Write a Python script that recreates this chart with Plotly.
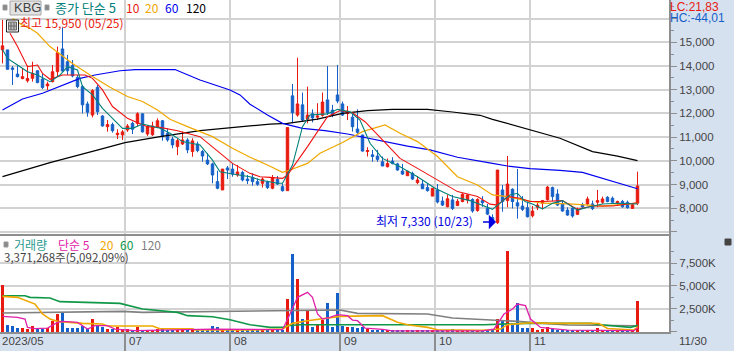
import plotly.graph_objects as go

# ---------- price data ----------
highs = [15950,14680,14000,14030,13900,14020,14180,13830,13660,13340,14040,14820,15630,14470,14250,13620,13200,12500,13020,13200,
11930,11720,11610,11330,11300,11550,11650,12050,12000,11510,11650,11790,11720,11370,11020,10950,11230,10950,10950,10810,
10460,10320,9920,9580,9650,9780,9890,9820,9580,9400,
9470,9260,9300,9160,9400,9360,9050,11400,13240,14350,12880,13130,12170,12430,12880,14000,12360,14040,12500,12310,
11980,12170,11090,10570,10460,10460,10180,10100,10150,9920,9870,9580,9540,9360,9190,9050,8840,9020,8490,8560,
8560,8390,8630,8590,8420,8420,8510,8180,7740,9610,8980,10200,8840,9650,8510,8280,8090,8280,8350,8940,
8910,8800,8320,8040,8040,8020,8230,8490,8320,8770,8490,8510,8490,8320,8350,8320,8180,9540]
lows = [14110,13860,13200,13520,13440,13300,13340,13270,13030,12990,13310,13550,13760,13620,13520,13060,12000,11860,11830,11930,
11440,11230,11190,10920,10880,11220,11130,11470,11190,11050,11050,11380,10850,10810,10530,10240,10670,10320,10170,10360,
9960,9820,9050,8800,8770,9230,9330,9330,9130,9020,
8950,8940,8870,8810,8800,8980,8700,8740,11580,11860,11650,11580,11620,11720,11860,11930,11840,12430,11890,11720,
11230,11120,10390,10180,9960,9960,9780,9720,9850,9580,9400,9360,9190,9010,8810,8700,8510,8200,8090,8040,
7920,8090,8250,8200,7810,7850,8060,7710,7340,7330,7850,8040,7990,7560,7880,7610,7610,7920,7950,8320,
8300,8090,7850,7680,7600,7710,8020,8130,7920,8040,8180,8250,8210,8090,8020,7980,7980,8130]
opens = [14680,14680,13920,13660,13470,13380,13480,13800,13450,13160,13340,13760,14720,14180,14020,13520,13130,12400,11930,13100,
11890,11440,11530,11100,11090,11300,11580,11580,11980,11130,11100,11440,11690,11160,10920,10600,10710,10880,10390,10710,
10390,10030,9870,9120,8770,9700,9650,9400,9510,9230,
9300,9120,9050,9120,8840,9220,8910,8740,12740,11930,12360,11750,11980,11840,11920,12570,12140,12780,12400,12000,
11840,11340,11090,10390,10250,10200,9960,9750,9990,9870,9570,9370,9470,9080,9020,8870,8510,8770,8300,8060,
8350,8110,8280,8350,8370,7900,8320,7990,7610,7390,8770,8320,8800,8230,8090,8020,7680,8040,8210,8360,
8870,8600,8180,7920,7990,7740,8150,8180,8180,8250,8250,8460,8420,8210,8280,8250,7990,8210]
closes = [14850,13860,13860,13550,13550,13470,13690,13300,13090,13240,13760,14560,13790,13800,13580,13130,12360,12050,12960,12070,
11470,11530,11270,11160,11220,11470,11330,11980,11220,11440,11470,11690,11020,10880,10670,10850,10880,10460,10840,10430,
10200,9870,9400,8840,9650,9610,9440,9530,9190,9160,
9120,9010,9230,8870,9290,9020,8740,11400,12030,12400,11720,11930,11810,11890,12480,12030,11920,12520,11930,12090,
11440,11200,10410,10430,10180,10060,9780,9890,9880,9610,9440,9560,9230,9190,8820,8740,8840,8260,8130,8400,
7990,8290,8590,8560,7880,8370,8230,7750,7360,9610,8280,9020,8280,8090,7950,7640,7880,8130,8320,8890,
8490,8130,7880,7710,7670,7950,8050,8390,7980,8320,8390,8280,8250,8280,8060,8020,8150,8940]
candle_index = list(range(len(highs)))

# moving averages at knot positions
ma5_x = [0,1,3,5,7,9.5,11.5,13,15,16,18,20,22,24,26,28,31.5,33.5,36,39.5,42,43.5,46,49.5,51.5,55,56,58,60,61.5,65,67,69.5,71.5,73.5,76,79.5,83,86.5,90,93.5,98,99,101.5,103,104.5,106,108,110,112,115,117,120,123,127]
ma5_y = [14700,14320,14040,13760,13620,13340,13620,13970,13830,13130,12780,12210,11790,11370,11370,11550,11370,11160,10810,10670,10030,9540,9440,9330,9190,9050,9050,9820,11440,11930,11980,12170,12070,11720,10740,10100,9750,9330,8840,8490,8320,7950,8130,8560,8630,8280,8180,7970,8210,8320,7920,8040,8180,8210,8180]
ma10_x = [1.5,3,5,7,8,9.5,12,14,16.5,18,20,22,25,27,29,31.5,35,39.5,43,46,49.5,51.5,53.5,56,57,61,65,67.5,70,72.5,76,79.5,83,87,91,95,97.5,99,101,103.5,105.5,108,112,115,118,122,127]
ma10_y = [15380,14820,13970,14040,13690,13440,13620,13620,13620,13480,12990,12290,11790,11610,11440,11410,11270,11020,10390,9890,9470,9330,9300,9260,9400,10600,11860,12120,12030,11650,10880,10100,9680,9190,8700,8490,8170,8130,8490,8420,8280,8280,8320,7950,8090,8090,8230]
ma20_x = [2,4,5.5,7,9.5,14,17.5,21.5,25,28,31,33.5,37,42,46,49.5,53,56,57.5,61,63.5,68,72,76.5,79.5,83,87,91,95,98,101,104,108,113.5,120,127]
ma20_y = [16000,15720,15590,15380,14820,14110,13620,13100,12710,12500,12140,11750,11440,11020,10530,10150,9820,9510,9610,9890,10320,10770,11230,11510,11160,10810,10180,9330,8980,8560,8490,8350,8210,8180,8090,8210]
ma60_x = [0,4,8,12,15.5,18.5,23.5,26.5,34.5,39.5,45.5,47.5,49.5,53,56,60,64.5,69,73,81,85.5,91,98,101,105.5,111.5,116,120,124,127]
ma60_y = [12140,12610,12850,13200,13480,13620,13800,13850,13850,13410,12990,12780,12390,11930,11580,11370,11270,11130,10950,10620,10460,10150,9890,9780,9670,9600,9510,9260,8980,8820]
ma120_x = [0,9.5,19.5,24.5,31.5,39.5,49.5,53.5,57,63,68,73,78,85,90,95.5,98,106,111.5,118,123,127]
ma120_y = [9330,9920,10480,10770,11020,11270,11470,11550,11580,11760,12000,12120,12170,12170,12060,11920,11750,11270,10950,10390,10200,10010]

# ---------- volume data (thousand shares) ----------
volumes = [5100,730,620,400,400,290,620,400,330,360,
1130,1930,2040,400,400,400,620,330,1350,655,
470,290,290,470,250,250,220,550,180,180,
180,250,250,220,220,180,250,220,180,180,
180,180,620,470,250,180,180,180,180,180,
180,150,150,150,150,150,150,3570,8480,5750,
1380,2290,510,840,1270,3130,550,4220,620,510,
510,440,550,290,180,220,220,110,130,130,
130,110,120,110,120,120,130,110,110,120,
290,130,120,110,130,120,130,120,150,1380,
1130,8850,840,3130,400,400,400,180,250,510,
290,220,180,180,150,130,130,150,130,400,
130,130,130,120,130,130,120,3371]

v5_x = [0,3,4.5,5,6.5,9,11,12,15,17,18.5,21,22.5,26.5,42,46,50,56,57.5,59,61,62,63,64,65.5,67,69,70,71,72.5,76,78,96,98.3,100.3,102,103,104.6,105.6,107.6,109,113,126.3,127]
v5_y = [1675,1565,1380,470,330,400,1020,1130,1020,290,655,655,290,110,290,290,220,220,1930,3750,4300,3750,1930,1380,1565,1860,1750,1270,1200,400,250,100,80,290,1930,2475,3020,2840,1380,470,400,180,110,400]
v20_x = [0,3,6.5,8,9.5,11,16,20,21,30,31.5,38,38.5,50,56,58,61,65,67.5,76,79,81,85,87,96,99.6,101,105.6,109.6,117.6,119.3,121,126.3,127]
v20_y = [3860,3750,3020,1930,1380,1130,910,840,620,620,330,330,180,180,290,910,1200,1460,1670,1750,1020,765,470,220,150,285,765,980,910,910,900,350,180,540]
v60_x = [0,4.5,5.5,9.5,11.5,16.5,23.5,28,35,37,42,45.5,49.5,53.5,56,57,59.5,69.5,96.3,105,117.6,119.6,125.6,127]
v60_y = [3930,3930,3750,3680,3280,3200,3090,2475,2110,1750,1640,1310,765,470,470,655,765,765,765,910,910,765,470,690]
v120_x = [0,24,28,43,50,58,67.5,71,85,90,97,103,113,125.6,127]
v120_y = [2040,2220,2110,2220,2220,2290,2370,2000,1930,1490,1270,1130,730,655,650]

# ---------- axis labels ----------
price_ticks = [7000,8000,9000,10000,11000,12000,13000,14000,15000,16000]
price_labels = ["","8,000","9,000","10,000","11,000","12,000","13,000","14,000","15,000",""]
vol_ticks = [0,2500,5000,7500]
vol_labels = ["","2,500K","5,000K","7,500K"]
date_ticks = [24.5,45.5,67.5,86.5,105.5]
date_labels = ["07","08","09","10","11"]

RED="#E8190F"; BLUE="#1560C8"; GRID="#D2D2D2"; AXIS="#8E8E8E"; PANEL="#D6E1F0"; TXT="#444444"
W=734; H=351; PW=669; PH=332; SPLIT=235
FONT="Liberation Sans, Noto Sans CJK KR, sans-serif"
KFONT="Noto Sans CJK KR, Liberation Sans, sans-serif"
px=lambda v:v/PW
py=lambda v:1-v/PH

fig=go.Figure()
fig.add_trace(go.Candlestick(x=candle_index,open=opens,high=highs,low=lows,close=closes,xaxis="x2",yaxis="y",
    increasing=dict(line=dict(color=RED,width=1),fillcolor=RED),
    decreasing=dict(line=dict(color=BLUE,width=1),fillcolor=BLUE),whiskerwidth=0,showlegend=False))
for xs,ys,c,w in [(ma120_x,ma120_y,"#000000",1.2),(ma60_x,ma60_y,"#0000F0",1.2),(ma20_x,ma20_y,"#F0A800",1.2),(ma10_x,ma10_y,"#F01010",1.1),(ma5_x,ma5_y,"#00807A",1.1)]:
    fig.add_trace(go.Scatter(x=xs,y=ys,mode="lines",line=dict(color=c,width=w),xaxis="x2",yaxis="y",showlegend=False))

bar_colors=[RED if c>=o else BLUE for o,c in zip(opens,closes)]
fig.add_trace(go.Bar(x=candle_index,y=volumes,marker=dict(color=bar_colors,line=dict(width=0)),width=0.6,xaxis="x",yaxis="y2",showlegend=False))
for xs,ys,c,w in [(v120_x,v120_y,"#808080",1.6),(v60_x,v60_y,"#109848",1.6),(v20_x,v20_y,"#F0A800",1.6),(v5_x,v5_y,"#E020A8",1.3)]:
    fig.add_trace(go.Scatter(x=xs,y=ys,mode="lines",line=dict(color=c,width=w),xaxis="x",yaxis="y2",showlegend=False))

def note(x,y,text,color=TXT,size=12,family=KFONT):
    fig.add_annotation(xref="paper",yref="paper",x=px(x),y=py(y),text=text,showarrow=False,xanchor="left",yanchor="middle",
        font=dict(family=family,size=size,color=color),borderpad=0,borderwidth=0)

note(55,7,"종가 단순 5","#00807A",13)
note(126,7,"10",RED); note(145,7,"20","#F0A800"); note(165,7,"60","#0000F0"); note(186,7,"120","#000000")
note(14,7,"KBG","#444444",13,FONT)
note(20,23,"최고 15,950 (05/25)",RED)
note(376,221,"최저 7,330 (10/23)","#0000E0")
note(670,7,"LC:21,83",RED,12,FONT)
note(670,18,"HC:-44,01",BLUE,12,FONT)
note(14,244,"거래량","#2A9A90")
note(58,244,"단순 5","#E020A8")
note(100,244,"20","#F0A800"); note(120,244,"60","#109848"); note(141,244,"120","#808080")
note(4,257,"3,371,268주(5,092,09%)",TXT,11.5)
for x,l in zip(date_ticks,date_labels):
    fig.add_annotation(xref="x",yref="paper",x=x,y=py(341),text=l,showarrow=False,xanchor="left",xshift=2,yanchor="middle",font=dict(family=FONT,size=11.5,color=TXT))
note(2,341,"2023/05",TXT,11.5,FONT)
note(679,341,"11/30",TXT,11.5,FONT)

fig.add_annotation(xref="x2",yref="y",x=98.7,y=7420,axref="pixel",ayref="pixel",ax=-16,ay=0,text=" ",showarrow=True,arrowhead=1,arrowsize=1.6,arrowwidth=1.5,arrowcolor="#0000E0")

shapes=[
 dict(type="line",xref="paper",yref="paper",x0=0,x1=px(PW),y0=py(SPLIT),y1=py(SPLIT),line=dict(color=AXIS,width=2)),
 dict(type="rect",xref="paper",yref="paper",x0=px(10),x1=px(41),y0=py(15),y1=py(1),fillcolor="#E2E2E2",line=dict(color="#A8A8A8",width=1),layer="below"),
 dict(type="rect",xref="paper",yref="paper",x0=px(3),x1=px(7),y0=py(10),y1=py(5),fillcolor="#888888",line=dict(color="#999999",width=1)),
 dict(type="rect",xref="paper",yref="paper",x0=px(45),x1=px(49),y0=py(10),y1=py(5),fillcolor="#888888",line=dict(color="#999999",width=1)),
 dict(type="rect",xref="paper",yref="paper",x0=px(4),x1=px(8),y0=py(247),y1=py(242),fillcolor="#888888",line=dict(color="#999999",width=1)),
 dict(type="rect",xref="paper",yref="paper",x0=px(6.5),x1=px(18.5),y0=py(32),y1=py(20),fillcolor="#FFFFFF",line=dict(color="#222222",width=1)),
 dict(type="rect",xref="paper",yref="paper",x0=px(8.5),x1=px(16.5),y0=py(30),y1=py(22),fillcolor="#BBBBBB",line=dict(color="#666666",width=1)),
 dict(type="line",xref="paper",yref="paper",x0=px(11),x1=px(11),y0=py(30),y1=py(22),line=dict(color="#666666",width=1)),
 dict(type="line",xref="paper",yref="paper",x0=px(14),x1=px(14),y0=py(30),y1=py(22),line=dict(color="#666666",width=1)),
 dict(type="line",xref="paper",yref="paper",x0=px(8.5),x1=px(16.5),y0=py(26),y1=py(26),line=dict(color="#666666",width=1)),
 dict(type="rect",xref="paper",yref="paper",x0=px(725),x1=px(731),y0=py(245),y1=py(239),fillcolor="#444444",line=dict(color="#444444",width=1)),
]

common_x=dict(range=[-0.5,133.3],tickmode="array",tickvals=date_ticks,ticktext=["" for _ in date_ticks],showgrid=True,gridcolor=GRID,gridwidth=2,zeroline=False)
fig.update_layout(
    width=W,height=H,autosize=False,margin=dict(l=0,r=W-PW,t=0,b=H-PH,pad=0),
    paper_bgcolor=PANEL,plot_bgcolor="#FFFFFF",bargap=0,showlegend=False,shapes=shapes,
    font=dict(family=FONT,size=12,color=TXT),
    xaxis=dict(**common_x,domain=[0,1],anchor="y2",ticks="outside",ticklen=19,tickcolor=AXIS,tickwidth=2,showline=True,linecolor=AXIS,linewidth=2),
    xaxis2=dict(**common_x,domain=[0,1],anchor="y",matches="x",ticks="",showticklabels=False,rangeslider=dict(visible=False)),
    yaxis=dict(domain=[(PH-SPLIT)/PH,1],range=[6869,16785],side="right",anchor="x2",tickmode="array",tickvals=price_ticks,ticktext=price_labels,
        showgrid=True,gridcolor=GRID,gridwidth=2,zeroline=False,showline=True,linecolor=AXIS,linewidth=2,ticks="outside",ticklen=6,tickcolor=AXIS,tickfont=dict(size=11.5,color=TXT,family=FONT),
        minor=dict(tickmode="array",tickvals=[7500,8500,9500,10500,11500,12500,13500,14500,15500,16500],ticks="outside",ticklen=3,tickcolor=AXIS,showgrid=False)),
    yaxis2=dict(domain=[0,(PH-SPLIT)/PH],range=[-33,10557],side="right",anchor="x",tickmode="array",tickvals=vol_ticks,ticktext=vol_labels,
        showgrid=True,gridcolor=GRID,gridwidth=2,zeroline=False,showline=True,linecolor=AXIS,linewidth=2,ticks="outside",ticklen=6,tickcolor=AXIS,tickfont=dict(size=11.5,color=TXT,family=FONT),
        minor=dict(tickmode="array",tickvals=[1250,3750,6250,8750],ticks="outside",ticklen=3,tickcolor=AXIS,showgrid=False)),
)
fig.write_html("out.html",config=dict(displayModeBar=False),post_script="document.body.style.margin='0';document.body.style.overflow='hidden';document.documentElement.style.overflow='hidden';")
